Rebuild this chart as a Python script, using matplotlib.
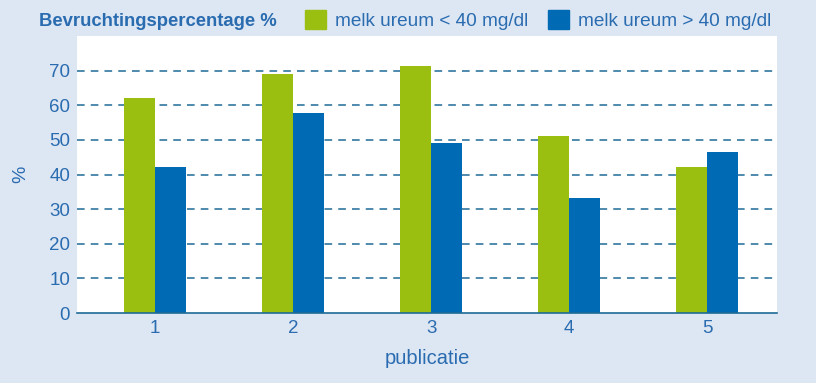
import numpy as np
import matplotlib.pyplot as plt

publicaties = ['1', '2', '3', '4', '5']
ureum_laag = [62.2, 68.9, 71.2, 51.2, 42.2]
ureum_hoog = [42.2, 57.9, 49.0, 33.3, 46.6]

groen = '#9bbf11'
blauw = '#006bb4'
tekst = '#2a6cb0'
achtergrond = '#dde6f3'
raster = '#1e6a96'

plt.rcParams['font.family'] = ['Liberation Sans', 'DejaVu Sans']

fig = plt.figure(figsize=(8.16, 3.83), dpi=100, facecolor=achtergrond)
ax = fig.add_axes([77 / 816, 70 / 383, 700 / 816, 277 / 383])
ax.set_facecolor('white')

x = np.arange(1, len(publicaties) + 1)
w = 0.225
ax.bar(x - w / 2, ureum_laag, w, color=groen, zorder=3)
ax.bar(x + w / 2, ureum_hoog, w, color=blauw, zorder=3)

ax.set_xlim(0.435, 5.505)
ax.set_ylim(0, 80)
ax.set_yticks(range(0, 80, 10))
ax.set_xticks(x)
ax.set_xticklabels(publicaties)

for y in range(10, 80, 10):
    ax.axhline(y, color=raster, lw=1.1, ls=(0, (5, 4)), zorder=1)

for s in ['top', 'right', 'left']:
    ax.spines[s].set_visible(False)
ax.spines['bottom'].set_color(raster)
ax.spines['bottom'].set_linewidth(1.2)
ax.spines['bottom'].set_zorder(4)

ax.tick_params(axis='y', length=0, pad=5, labelsize=13.5, labelcolor=tekst)
ax.tick_params(axis='x', length=0, pad=5, labelsize=13.5, labelcolor=tekst)

ax.set_ylabel('%', fontsize=14, color=tekst, labelpad=14)
ax.set_xlabel('publicatie', fontsize=14.5, color=tekst, labelpad=9)

# titel en legenda bovenaan
fig.text(39 / 816, 1 - 21 / 383, 'Bevruchtingspercentage %', fontsize=13.3,
         fontweight='bold', color=tekst, va='center', ha='left')
fig.patches.append(plt.Rectangle((305 / 816, 1 - 29 / 383), 21 / 816, 19 / 383,
                                 transform=fig.transFigure, color=groen))
fig.text(335 / 816, 1 - 21 / 383, 'melk ureum < 40 mg/dl', fontsize=13.7,
         color=tekst, va='center', ha='left')
fig.patches.append(plt.Rectangle((548 / 816, 1 - 29 / 383), 21 / 816, 19 / 383,
                                 transform=fig.transFigure, color=blauw))
fig.text(578 / 816, 1 - 21 / 383, 'melk ureum > 40 mg/dl', fontsize=13.7,
         color=tekst, va='center', ha='left')

fig.savefig('out.png', dpi=100, facecolor=achtergrond)
